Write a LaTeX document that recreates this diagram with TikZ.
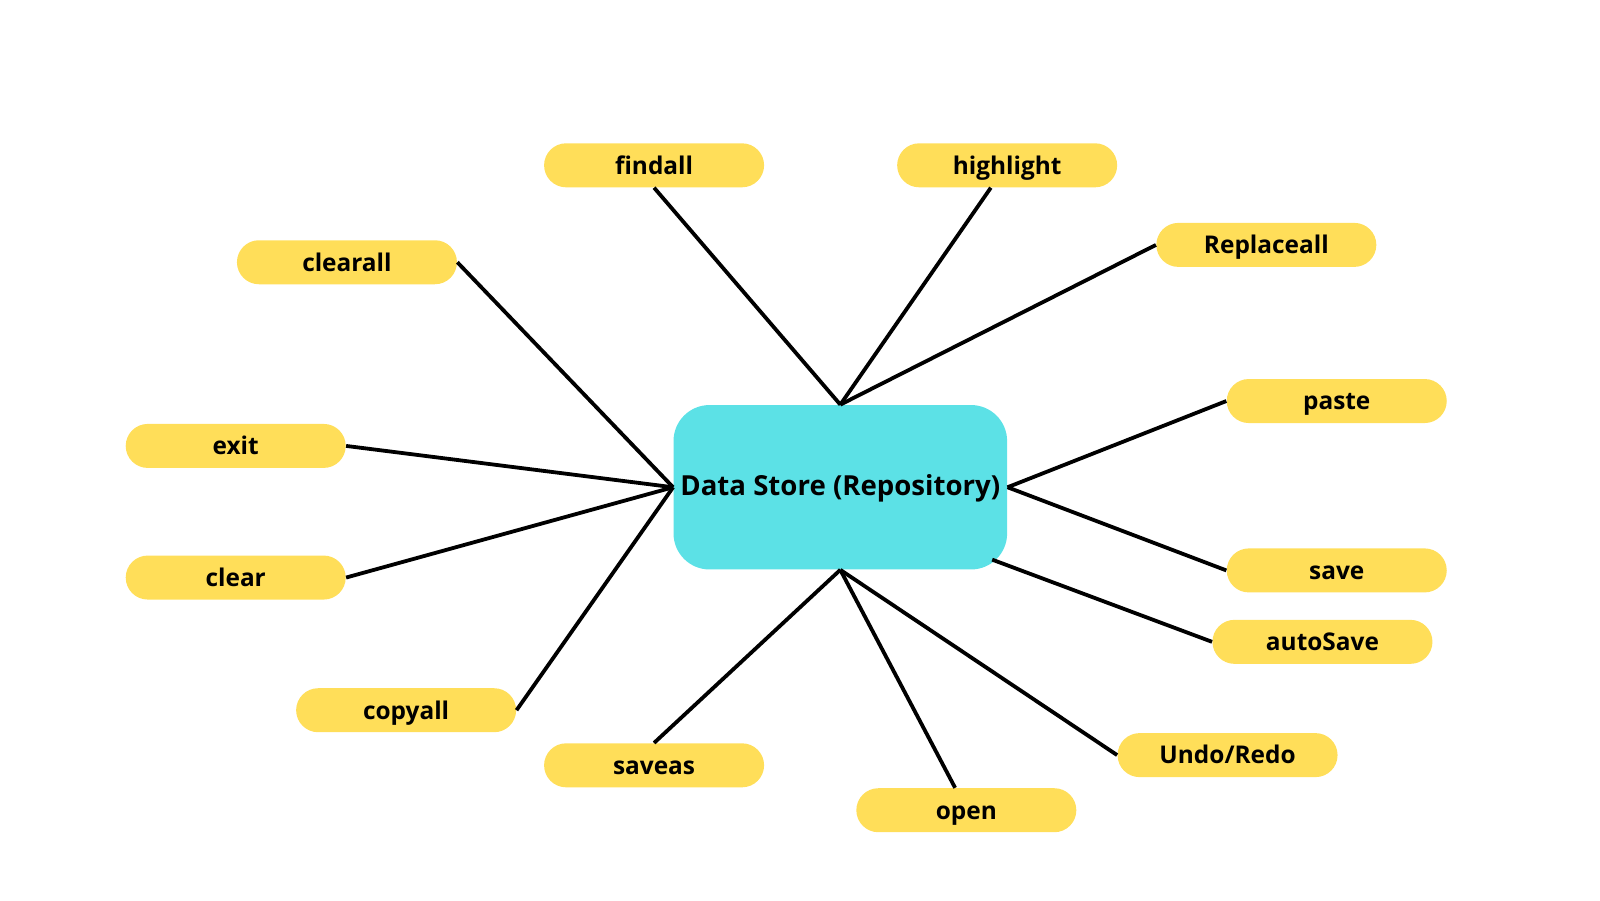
\documentclass[tikz,border=0pt]{standalone}
\usepackage{fontspec}
\setmainfont{Open Sans}
\usetikzlibrary{calc}
\definecolor{pill}{HTML}{FFDE59}
\definecolor{cyanbox}{HTML}{5CE1E6}
\begin{document}
\begin{tikzpicture}[x=0.5102pt,y=-0.5102pt,
 pillnode/.style={fill=pill, rounded corners=11pt, minimum width=110pt, minimum height=22pt, inner sep=0pt, text height=0.88em, text depth=0pt, font=\fontsize{12.2}{14}\selectfont\bfseries},
 hub/.style={fill=cyanbox, rounded corners=18pt, minimum width=166.8pt, minimum height=82.2pt, inner sep=0pt, text height=0.86em, text depth=0pt, font=\fontsize{13.8}{16}\selectfont\bfseries},
 link/.style={line width=1.9pt, black}]
\useasboundingbox (0,0) rectangle (1568,882);
\node[hub] (ds) at (823.5,477.5) {Data Store (Repository)};
\node[pillnode] (findall) at (641,162) {findall};
\node[pillnode] (highlight) at (987,162) {highlight};
\node[pillnode] (replaceall) at (1241,240) {Replaceall};
\node[pillnode] (clearall) at (340,257) {clearall};
\node[pillnode] (paste) at (1310,393) {paste};
\node[pillnode] (exit) at (231,437) {exit};
\node[pillnode] (save) at (1310,559) {save};
\node[pillnode] (clear) at (231,566) {clear};
\node[pillnode] (autosave) at (1296,629) {autoSave};
\node[pillnode] (copyall) at (398,696) {copyall};
\node[pillnode] (saveas) at (641,750) {saveas};
\node[pillnode] (undoredo) at (1203,740) {Undo/Redo};
\node[pillnode] (open) at (947,794) {open};
\draw[link] (findall.south) -- (ds.north);
\draw[link] ($(highlight.south)+(-16,0)$) -- (ds.north);
\draw[link] (replaceall.west) -- (ds.north);
\draw[link] (clearall.east) -- (ds.west);
\draw[link] (exit.east) -- (ds.west);
\draw[link] (clear.east) -- (ds.west);
\draw[link] (copyall.east) -- (ds.west);
\draw[link] (paste.west) -- (ds.east);
\draw[link] (save.west) -- (ds.east);
\draw[link] (autosave.west) -- ($(ds.south east)+(-15,-10)$);
\draw[link] (saveas.north) -- (ds.south);
\draw[link] ($(open.north)+(-11,0)$) -- (ds.south);
\draw[link] (undoredo.west) -- (ds.south);
\end{tikzpicture}
\end{document}
